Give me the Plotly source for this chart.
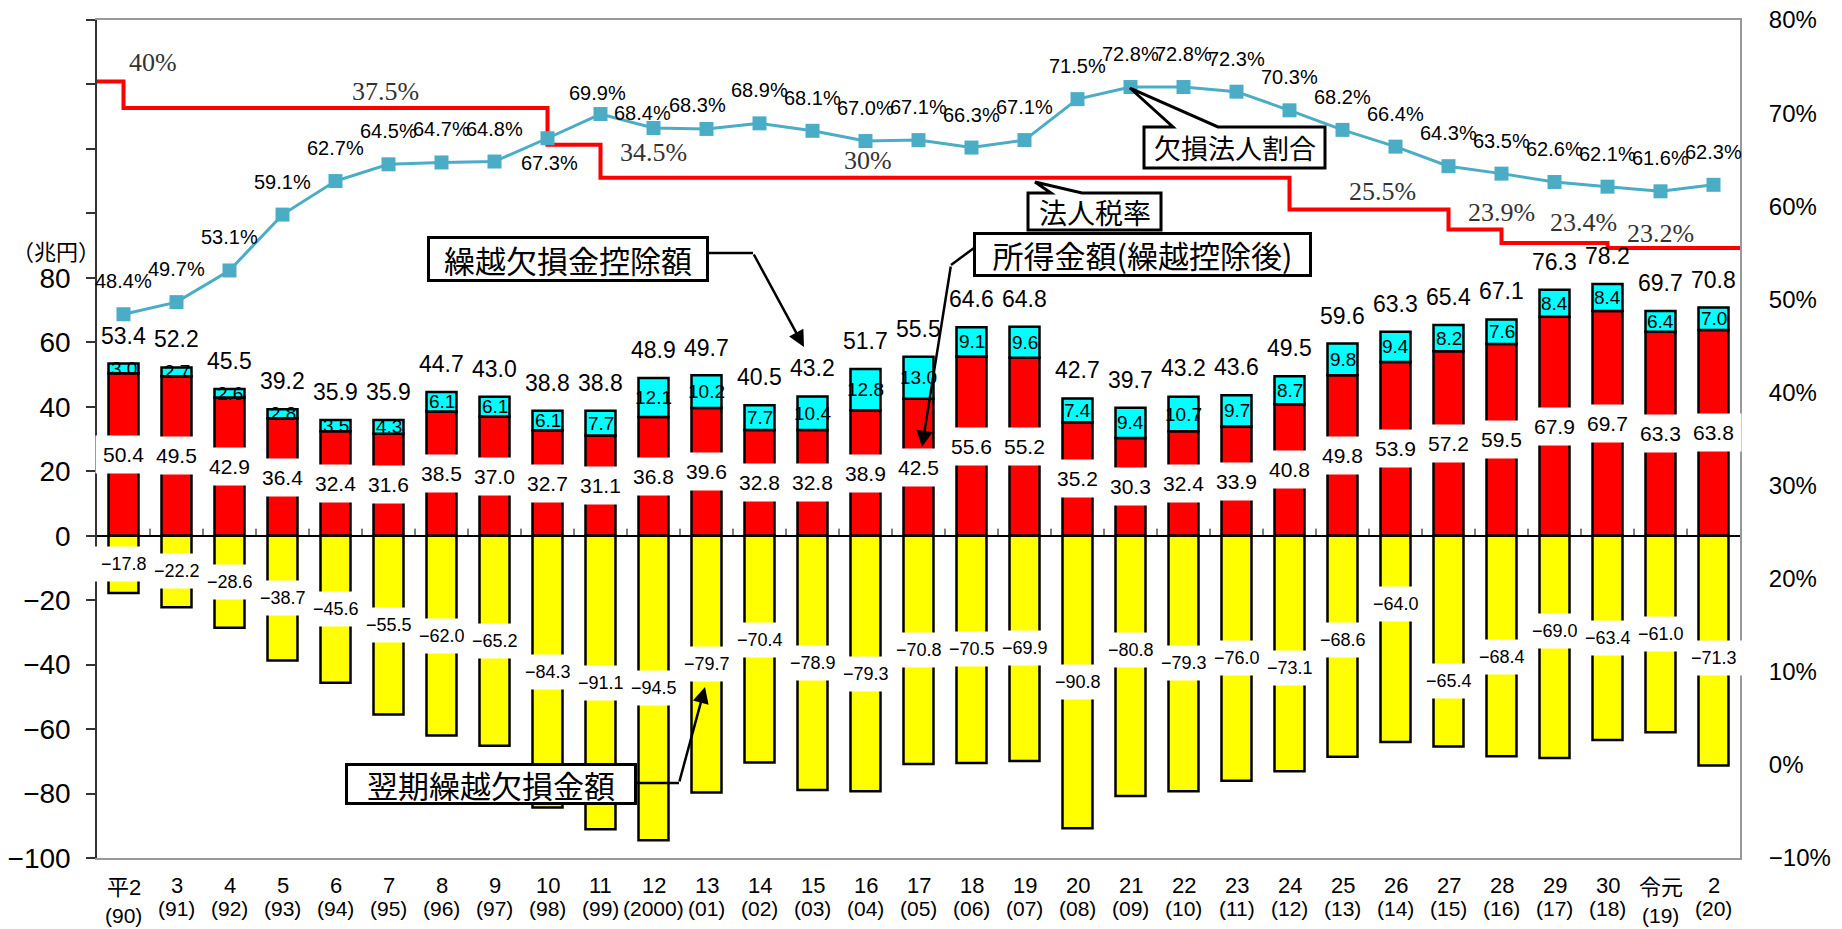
import plotly.graph_objects as go

# ---------------- data ----------------
era_labels = ["平2", "3", "4", "5", "6", "7", "8", "9", "10", "11", "12", "13", "14", "15", "16",
              "17", "18", "19", "20", "21", "22", "23", "24", "25", "26", "27", "28", "29", "30",
              "令元", "2"]
year_labels = ["(90)", "(91)", "(92)", "(93)", "(94)", "(95)", "(96)", "(97)", "(98)", "(99)",
               "(2000)", "(01)", "(02)", "(03)", "(04)", "(05)", "(06)", "(07)", "(08)", "(09)",
               "(10)", "(11)", "(12)", "(13)", "(14)", "(15)", "(16)", "(17)", "(18)", "(19)", "(20)"]

# 所得金額（繰越控除後）  (兆円)
income_after = [50.4, 49.5, 42.9, 36.4, 32.4, 31.6, 38.5, 37.0, 32.7, 31.1, 36.8, 39.6, 32.8, 32.8,
                38.9, 42.5, 55.6, 55.2, 35.2, 30.3, 32.4, 33.9, 40.8, 49.8, 53.9, 57.2, 59.5, 67.9,
                69.7, 63.3, 63.8]
# 繰越欠損金控除額
loss_deduction = [3.0, 2.7, 2.6, 2.8, 3.5, 4.3, 6.1, 6.1, 6.1, 7.7, 12.1, 10.2, 7.7, 10.4, 12.8,
                  13.0, 9.1, 9.6, 7.4, 9.4, 10.7, 9.7, 8.7, 9.8, 9.4, 8.2, 7.6, 8.4, 8.4, 6.4, 7.0]
# 所得金額（控除前）: printed totals
income_before = [53.4, 52.2, 45.5, 39.2, 35.9, 35.9, 44.7, 43.0, 38.8, 38.8, 48.9, 49.7, 40.5, 43.2,
                 51.7, 55.5, 64.6, 64.8, 42.7, 39.7, 43.2, 43.6, 49.5, 59.6, 63.3, 65.4, 67.1, 76.3,
                 78.2, 69.7, 70.8]
# 翌期繰越欠損金額
loss_carryforward = [-17.8, -22.2, -28.6, -38.7, -45.6, -55.5, -62.0, -65.2, -84.3, -91.1, -94.5,
                     -79.7, -70.4, -78.9, -79.3, -70.8, -70.5, -69.9, -90.8, -80.8, -79.3, -76.0,
                     -73.1, -68.6, -64.0, -65.4, -68.4, -69.0, -63.4, -61.0, -71.3]
# 欠損法人割合 (%)
deficit_ratio = [48.4, 49.7, 53.1, 59.1, 62.7, 64.5, 64.7, 64.8, 67.3, 69.9, 68.4, 68.3, 68.9, 68.1,
                 67.0, 67.1, 66.3, 67.1, 71.5, 72.8, 72.8, 72.3, 70.3, 68.2, 66.4, 64.3, 63.5, 62.6,
                 62.1, 61.6, 62.3]
# 法人税率 (%), the era label from which each rate applies, and the drawn level of the
# step line as read against the right-hand axis
tax_rates = [40, 37.5, 34.5, 30, 25.5, 23.9, 23.4, 23.2]
tax_rate_from = [None, "平2", "10", "11", "24", "27", "28", "30"]
tax_line_level = [73.4, 70.55, 66.6, 63.05, 59.65, 57.5, 56.05, 55.5]

# ---------------- geometry / style ----------------
W, H = 1842, 929
PL, PR, PT, PB = 97, 1740, 20, 858
NCAT = len(era_labels)
Y_MIN, Y_MAX = -100, 160
Y2_MIN, Y2_MAX = -10, 80

NUM = "Liberation Sans, Arial, Noto Sans CJK JP, sans-serif"
JP = "Noto Sans CJK JP, sans-serif"
SERIF = "Liberation Serif, Times New Roman, serif"
TEAL = "#4BACC6"


def xd(px):
    return (px - PL) / (PR - PL) * NCAT - 0.5


def yd(py):
    return Y_MIN + (PB - py) / (PB - PT) * (Y_MAX - Y_MIN)


def xpp(px):
    return (px - PL) / (PR - PL)


def ypp(py):
    return (PB - py) / (PB - PT)


def fmt(v):
    s = f"{abs(v):.1f}"
    return ("\u2212" + s) if v < 0 else s


x = list(range(NCAT))

fig = go.Figure()
bar_line = dict(color="black", width=2.5)
fig.add_trace(go.Bar(x=x, y=income_after, marker=dict(color="#FF0000", line=bar_line),
                     name="所得金額（繰越控除後）"))
fig.add_trace(go.Bar(x=x, y=loss_deduction, marker=dict(color="#00FFFF", line=bar_line),
                     name="繰越欠損金控除額"))
fig.add_trace(go.Bar(x=x, y=loss_carryforward, marker=dict(color="#FFFF00", line=bar_line),
                     name="翌期繰越欠損金額"))

# tax-rate step line
step_x = [-0.5] + [era_labels.index(e) for e in tax_rate_from[1:]] + [NCAT - 0.5]
step_y = tax_line_level + [tax_line_level[-1]]
fig.add_trace(go.Scatter(x=step_x, y=step_y, yaxis="y2", mode="lines",
                         line=dict(color="#FF0000", width=4, shape="hv"), name="法人税率"))

fig.add_trace(go.Scatter(x=x, y=deficit_ratio, yaxis="y2", mode="lines+markers",
                         line=dict(color=TEAL, width=3),
                         marker=dict(symbol="square", size=14, color=TEAL),
                         name="欠損法人割合"))

ann = []
C = dict(xanchor="center", yanchor="middle")
# bar value labels
yellow_nudge = {12: 9, 14: -11, 19: 16, 22: -14, 23: 6, 24: 35, 25: -40, 26: -11, 27: 16, 30: -7}
for i in x:
    r, c, t, n = income_after[i], loss_deduction[i], income_before[i], loss_carryforward[i]
    ann.append(dict(x=i, y=r / 2, xref="x", yref="y", text=fmt(r), showarrow=False, **C,
                    font=dict(family=NUM, size=21, color="black"), bgcolor="white", borderpad=7))
    ann.append(dict(x=i, y=r + c / 2, xref="x", yref="y", text=fmt(c), showarrow=False, **C,
                    font=dict(family=NUM, size=19, color="black")))
    ann.append(dict(x=i, y=t, xref="x", yref="y", text=fmt(t), showarrow=False, yshift=28, **C,
                    font=dict(family=NUM, size=23, color="black")))
    ann.append(dict(x=i, y=n / 2, xref="x", yref="y", text=fmt(n), showarrow=False, **C,
                    yshift=yellow_nudge.get(i, 0),
                    font=dict(family=NUM, size=18, color="black"), bgcolor="white", borderpad=7))

# deficit ratio labels
teal_nudge = {8: (2, -25), 9: (-3, 21), 10: (-11, 15), 11: (-9, 24)}
for i in x:
    dx, dy = teal_nudge.get(i, (0, 33))
    ann.append(dict(x=i, y=deficit_ratio[i], xref="x", yref="y2", text=f"{deficit_ratio[i]:.1f}%",
                    showarrow=False, xshift=dx, yshift=dy, **C,
                    font=dict(family=NUM, size=20, color="black")))

# tax rate labels
tax_label_x = [0.55, 4.95, 10.0, 14.05, 23.75, 26.0, 27.55, 29.0]
tax_label_dy = [19, 16, -8, 17, 18, 17, 21, 15]
for k, rt in enumerate(tax_rates):
    ann.append(dict(x=tax_label_x[k], y=tax_line_level[k], xref="x", yref="y2", text=f"{rt:g}%",
                    showarrow=False, yshift=tax_label_dy[k], **C,
                    font=dict(family=SERIF, size=26, color="#333")))

# x-axis category labels (two rows)
for i in x:
    cjk = not era_labels[i].isdigit()
    ann.append(dict(x=i, y=0, xref="x", yref="paper", text=era_labels[i], showarrow=False, **C,
                    yshift=-(29 if cjk else 27), font=dict(family=NUM, size=22, color="black")))
    ann.append(dict(x=i, y=0, xref="x", yref="paper", text=year_labels[i], showarrow=False, **C,
                    yshift=-(57 if cjk else 50), font=dict(family=NUM, size=21, color="black")))

# unit label
ann.append(dict(x=xpp(56), y=ypp(250), xref="paper", yref="paper", text="（兆円）",
                showarrow=False, **C, font=dict(family=JP, size=22, color="black")))


# boxed callouts
def box(cx, cy, w, h, text, size):
    return dict(x=xpp(cx), y=ypp(cy), xref="paper", yref="paper", text=text, showarrow=False,
                width=w, height=h, bgcolor="white", bordercolor="black", borderwidth=3,
                borderpad=0, **C, font=dict(family=JP, size=size, color="black"))


ann.append(box(568, 259, 276, 40, "繰越欠損金控除額", 31))
ann.append(box(1142.5, 254.5, 333, 39, "所得金額(繰越控除後)", 31))
ann.append(box(491, 784, 286, 36, "翌期繰越欠損金額", 31))
ann.append(dict(x=xpp(1094.5), y=ypp(211.5), xref="paper", yref="paper", text="法人税率",
                showarrow=False, **C, font=dict(family=JP, size=28, color="black")))
ann.append(dict(x=xpp(1234.5), y=ypp(147.5), xref="paper", yref="paper", text="欠損法人割合",
                showarrow=False, **C, font=dict(family=JP, size=27, color="black")))

# arrows (tail -> tip), pixel positions of the leaders
arrows = [((753, 253), (804, 347)), ((951, 265), (922, 447)), ((679, 783), (705, 687))]
for (tx, ty), (hx, hy) in arrows:
    ann.append(dict(x=xd(hx), y=yd(hy), xref="x", yref="y", ax=xd(tx), ay=yd(ty),
                    axref="x", ayref="y", text="", showarrow=True, arrowhead=2, arrowsize=1.3,
                    arrowwidth=2.5, arrowcolor="black", standoff=0, startstandoff=0))

shapes = []


def ppath(points, close=False):
    s = "M " + " L ".join(f"{xpp(a):.5f},{ypp(b):.5f}" for a, b in points)
    return s + (" Z" if close else "")


# leader segments
for seg in [[(708, 253), (753, 253)], [(974, 248), (951, 265)], [(636, 783), (679, 783)]]:
    shapes.append(dict(type="path", xref="paper", yref="paper", path=ppath(seg),
                       line=dict(color="black", width=2.5), layer="above"))
# wedge callouts
for pts in [[(1028, 193), (1051, 193), (1035, 182), (1082, 193), (1161, 193), (1161, 230), (1028, 230)],
            [(1144, 127), (1173, 127), (1130, 88), (1218, 127), (1325, 127), (1325, 168), (1144, 168)]]:
    shapes.append(dict(type="path", xref="paper", yref="paper", path=ppath(pts, True),
                       fillcolor="white", line=dict(color="black", width=3), layer="above"))
# small boundary ticks on the zero line
for i in range(NCAT - 1):
    shapes.append(dict(type="line", xref="x", yref="y", x0=i + 0.5, x1=i + 0.5, y0=0, y1=2.2,
                       line=dict(color="black", width=1), layer="above"))

left_ticks = list(range(-100, 81, 20))
unlabeled_ticks = list(range(100, 161, 20))
right_ticks = list(range(-10, 81, 10))
fig.update_layout(
    width=W, height=H,
    margin=dict(l=PL, r=W - PR, t=PT, b=H - PB, pad=0, autoexpand=False),
    paper_bgcolor="white", plot_bgcolor="white",
    barmode="relative", bargap=0.434,
    showlegend=False,
    annotations=ann, shapes=shapes,
    xaxis=dict(range=[-0.5, NCAT - 0.5], showticklabels=False, ticks="", showgrid=False,
               zeroline=False, showline=True, linecolor="#999", linewidth=2, mirror=True,
               automargin=False),
    yaxis=dict(range=[Y_MIN, Y_MAX], tickvals=left_ticks,
               ticktext=[str(v).replace("-", "\u2212") for v in left_ticks],
               ticks="outside", ticklen=9, tickwidth=1.5, tickcolor="#333",
               minor=dict(tickvals=unlabeled_ticks, ticks="outside", ticklen=9, tickwidth=1.5,
                          tickcolor="#333", showgrid=False),
               tickfont=dict(family=NUM, size=28, color="black"), ticklabelstandoff=10,
               showgrid=False, zeroline=True, zerolinecolor="black", zerolinewidth=1.5,
               showline=True, linecolor="#333", linewidth=1.5, automargin=False),
    yaxis2=dict(range=[Y2_MIN, Y2_MAX], overlaying="y", side="right",
                tickvals=right_ticks,
                ticktext=[str(v).replace("-", "\u2212") + "%" for v in right_ticks], ticks="",
                tickfont=dict(family=NUM, size=24, color="black"), ticklabelstandoff=22,
                showgrid=False, zeroline=False, showline=True, linecolor="#999", linewidth=2,
                automargin=False),
)

fig.write_html("out.html", config={"displayModeBar": False},
               post_script="document.body.style.margin='0';document.body.style.overflow='hidden';")
